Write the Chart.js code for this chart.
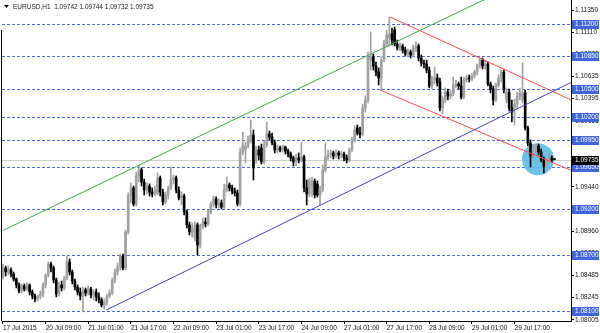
<!DOCTYPE html>
<html>
<head>
<meta charset="utf-8">
<title>EURUSD,H1</title>
<script src="https://cdn.jsdelivr.net/npm/chart.js@4.4.1/dist/chart.umd.min.js"></script>
<style>
  html, body { margin: 0; padding: 0; background: #fff; }
  canvas { display: block; }
</style>
</head>
<body>
<canvas id="chart" width="600" height="333"></canvas>
<script>
// EURUSD H1 candles, bar 0 = 17 Jul 2015 17:00, last bar = 30 Jul 08:00
const opens = [
  1.08478, 1.08565, 1.08521, 1.08543, 1.08500, 1.08446, 1.08381, 1.08316, 1.08370, 1.08338,
  1.08381, 1.08305, 1.08262, 1.08230, 1.08262, 1.08284, 1.08381, 1.08489, 1.08608, 1.08565,
  1.08435, 1.08284, 1.08381, 1.08349, 1.08457, 1.08629, 1.08521, 1.08424, 1.08359, 1.08305,
  1.08262, 1.08327, 1.08295, 1.08338, 1.08273, 1.08305, 1.08252, 1.08219, 1.08165, 1.08197,
  1.08262, 1.08295, 1.08435, 1.08521, 1.08575, 1.08694, 1.08565, 1.08953, 1.09342, 1.09429,
  1.09256, 1.09558, 1.09623, 1.09493, 1.09407, 1.09450, 1.09385, 1.09364, 1.09375, 1.09537,
  1.09385, 1.09277, 1.09353, 1.09429, 1.09515, 1.09537, 1.09407, 1.09321, 1.09342, 1.09169,
  1.09029, 1.08953, 1.08889, 1.09029, 1.08813, 1.09018, 1.09061, 1.09040, 1.09169, 1.09256,
  1.09310, 1.09245, 1.09267, 1.09223, 1.09407, 1.09461, 1.09429, 1.09396, 1.09375, 1.09256,
  1.09817, 1.09839, 1.09882, 1.09947, 1.10001, 1.09731, 1.09839, 1.09861, 1.09710, 1.09893,
  1.10012, 1.09979, 1.09915, 1.09839, 1.09861, 1.09839, 1.09871, 1.09828, 1.09796, 1.09753,
  1.09710, 1.09753, 1.09731, 1.09763, 1.09429, 1.09364, 1.09450, 1.09504, 1.09472, 1.09353,
  1.09407, 1.09623, 1.09763, 1.09785, 1.09807, 1.09774, 1.09807, 1.09785, 1.09796, 1.09753,
  1.09731, 1.09839, 1.09947, 1.10077, 1.10023, 1.10012, 1.10293, 1.10379, 1.10811, 1.10843,
  1.10746, 1.10681, 1.10617, 1.10811, 1.10984, 1.11049, 1.11092, 1.11135, 1.10984, 1.10941,
  1.10962, 1.10919, 1.10876, 1.10897, 1.10865, 1.10941, 1.10962, 1.10833, 1.10779, 1.10768,
  1.10703, 1.10530, 1.10595, 1.10617, 1.10573, 1.10293, 1.10379, 1.10465, 1.10422, 1.10444,
  1.10541, 1.10552, 1.10530, 1.10411, 1.10595, 1.10617, 1.10606, 1.10638, 1.10681, 1.10757,
  1.10811, 1.10746, 1.10768, 1.10552, 1.10498, 1.10379, 1.10541, 1.10617, 1.10681, 1.10379,
  1.10465, 1.10293, 1.10293, 1.10336, 1.10422, 1.10379, 1.10455, 1.10077, 1.09915, 1.09774,
  1.09861, 1.09882, 1.09817, 1.09731, 1.09666, 1.09731, 1.09753, 1.09742
];
const highs = [
  1.08608, 1.08586, 1.08586, 1.08565, 1.08521, 1.08457, 1.08403, 1.08392, 1.08392, 1.08403,
  1.08392, 1.08327, 1.08284, 1.08273, 1.08316, 1.08403, 1.08500, 1.08629, 1.08629, 1.08586,
  1.08457, 1.08413, 1.08424, 1.08478, 1.08694, 1.08662, 1.08543, 1.08446, 1.08381, 1.08349,
  1.08359, 1.08349, 1.08370, 1.08359, 1.08327, 1.08338, 1.08295, 1.08241, 1.08230, 1.08284,
  1.08327, 1.08457, 1.08554, 1.08619, 1.08716, 1.08716, 1.08975, 1.09375, 1.09483, 1.09450,
  1.09601, 1.09677, 1.09645, 1.09526, 1.09483, 1.09472, 1.09429, 1.09450, 1.09591, 1.09558,
  1.09418, 1.09385, 1.09450, 1.09655, 1.09569, 1.09558, 1.09440, 1.09385, 1.09364, 1.09191,
  1.09061, 1.09051, 1.09061, 1.09051, 1.09040, 1.09105, 1.09105, 1.09191, 1.09277, 1.09342,
  1.09332, 1.09310, 1.09299, 1.09472, 1.09547, 1.09483, 1.09461, 1.09429, 1.09407, 1.09861,
  1.10033, 1.09925, 1.09990, 1.10163, 1.10055, 1.09882, 1.09882, 1.09904, 1.09936, 1.10141,
  1.10044, 1.10022, 1.09947, 1.09893, 1.09882, 1.09893, 1.09882, 1.09850, 1.09817, 1.09774,
  1.09796, 1.09807, 1.09925, 1.09785, 1.09515, 1.09537, 1.09547, 1.09526, 1.09504, 1.09450,
  1.09677, 1.09915, 1.09839, 1.09839, 1.09828, 1.09839, 1.09828, 1.09828, 1.09817, 1.09785,
  1.09861, 1.09979, 1.10098, 1.10109, 1.10087, 1.10336, 1.10422, 1.10897, 1.11113, 1.10876,
  1.10789, 1.10725, 1.10843, 1.11027, 1.11135, 1.11275, 1.11157, 1.11167, 1.11027, 1.10995,
  1.10984, 1.10951, 1.10930, 1.10919, 1.10973, 1.11005, 1.10984, 1.10865, 1.10811, 1.10811,
  1.10735, 1.10638, 1.10735, 1.10660, 1.10617, 1.10422, 1.10509, 1.10498, 1.10487, 1.10627,
  1.10595, 1.10573, 1.10627, 1.10627, 1.10649, 1.10649, 1.10671, 1.10703, 1.10768, 1.10833,
  1.10833, 1.10800, 1.10789, 1.10573, 1.10530, 1.10563, 1.10649, 1.10703, 1.10703, 1.10509,
  1.10498, 1.10379, 1.10390, 1.10465, 1.10509, 1.10779, 1.10487, 1.10098, 1.09947, 1.09893,
  1.09904, 1.09904, 1.09850, 1.09763, 1.09753, 1.09807, 1.09774, 1.09744
];
const lows = [
  1.08446, 1.08478, 1.08489, 1.08467, 1.08424, 1.08349, 1.08295, 1.08295, 1.08316, 1.08316,
  1.08273, 1.08230, 1.08197, 1.08208, 1.08230, 1.08252, 1.08349, 1.08467, 1.08521, 1.08403,
  1.08252, 1.08262, 1.08316, 1.08327, 1.08435, 1.08489, 1.08392, 1.08327, 1.08273, 1.08219,
  1.08089, 1.08262, 1.08273, 1.08241, 1.08219, 1.08208, 1.08187, 1.08143, 1.08122, 1.08165,
  1.08241, 1.08273, 1.08403, 1.08489, 1.08543, 1.08543, 1.08543, 1.08932, 1.09267, 1.09234,
  1.09234, 1.09493, 1.09450, 1.09353, 1.09364, 1.09342, 1.09332, 1.09342, 1.09353, 1.09342,
  1.09245, 1.09256, 1.09310, 1.09407, 1.09472, 1.09375, 1.09299, 1.09245, 1.09137, 1.08997,
  1.08921, 1.08899, 1.08856, 1.08705, 1.08781, 1.08986, 1.09008, 1.09018, 1.09148, 1.09223,
  1.09213, 1.09213, 1.09202, 1.09202, 1.09385, 1.09396, 1.09364, 1.09342, 1.09234, 1.09234,
  1.09785, 1.09699, 1.09861, 1.09915, 1.09515, 1.09699, 1.09731, 1.09688, 1.09688, 1.09871,
  1.09947, 1.09893, 1.09807, 1.09807, 1.09817, 1.09817, 1.09796, 1.09763, 1.09720, 1.09666,
  1.09666, 1.09699, 1.09710, 1.09385, 1.09245, 1.09332, 1.09332, 1.09321, 1.09332, 1.09245,
  1.09385, 1.09601, 1.09731, 1.09753, 1.09742, 1.09753, 1.09742, 1.09753, 1.09720, 1.09699,
  1.09710, 1.09817, 1.09925, 1.10001, 1.09969, 1.09990, 1.10249, 1.10347, 1.10703, 1.10703,
  1.10638, 1.10541, 1.10487, 1.10789, 1.10951, 1.10962, 1.10973, 1.10962, 1.10919, 1.10908,
  1.10887, 1.10854, 1.10843, 1.10833, 1.10843, 1.10897, 1.10800, 1.10746, 1.10725, 1.10671,
  1.10509, 1.10498, 1.10552, 1.10530, 1.10260, 1.10228, 1.10347, 1.10379, 1.10390, 1.10422,
  1.10509, 1.10498, 1.10390, 1.10390, 1.10573, 1.10573, 1.10584, 1.10617, 1.10649, 1.10725,
  1.10714, 1.10714, 1.10530, 1.10455, 1.10325, 1.10357, 1.10519, 1.10573, 1.10455, 1.10347,
  1.10260, 1.10141, 1.10109, 1.10293, 1.10379, 1.10347, 1.10055, 1.09882, 1.09655, 1.09753,
  1.09817, 1.09785, 1.09710, 1.09590, 1.09645, 1.09710, 1.09710, 1.09732
];
const closes = [
  1.08565, 1.08521, 1.08543, 1.08500, 1.08446, 1.08381, 1.08316, 1.08370, 1.08338, 1.08381,
  1.08305, 1.08262, 1.08230, 1.08262, 1.08284, 1.08381, 1.08489, 1.08608, 1.08565, 1.08435,
  1.08284, 1.08381, 1.08349, 1.08457, 1.08629, 1.08521, 1.08424, 1.08359, 1.08305, 1.08262,
  1.08327, 1.08295, 1.08338, 1.08273, 1.08305, 1.08252, 1.08219, 1.08165, 1.08197, 1.08262,
  1.08295, 1.08435, 1.08521, 1.08575, 1.08694, 1.08565, 1.08953, 1.09342, 1.09429, 1.09256,
  1.09558, 1.09623, 1.09493, 1.09407, 1.09450, 1.09385, 1.09364, 1.09407, 1.09537, 1.09385,
  1.09277, 1.09353, 1.09429, 1.09515, 1.09537, 1.09407, 1.09321, 1.09342, 1.09169, 1.09029,
  1.08953, 1.08997, 1.09029, 1.08813, 1.09018, 1.09061, 1.09040, 1.09169, 1.09256, 1.09310,
  1.09245, 1.09267, 1.09223, 1.09407, 1.09461, 1.09429, 1.09396, 1.09375, 1.09256, 1.09817,
  1.09893, 1.09882, 1.09947, 1.10001, 1.09645, 1.09839, 1.09785, 1.09710, 1.09893, 1.10012,
  1.09979, 1.09915, 1.09839, 1.09861, 1.09839, 1.09871, 1.09828, 1.09796, 1.09753, 1.09710,
  1.09753, 1.09731, 1.09763, 1.09429, 1.09364, 1.09515, 1.09504, 1.09353, 1.09353, 1.09407,
  1.09623, 1.09763, 1.09785, 1.09807, 1.09774, 1.09807, 1.09785, 1.09796, 1.09753, 1.09731,
  1.09839, 1.09947, 1.10055, 1.10023, 1.10012, 1.10293, 1.10379, 1.10843, 1.10843, 1.10746,
  1.10681, 1.10617, 1.10811, 1.10984, 1.11081, 1.11092, 1.11027, 1.10984, 1.10941, 1.10962,
  1.10919, 1.10876, 1.10897, 1.10865, 1.10941, 1.10962, 1.10833, 1.10779, 1.10768, 1.10703,
  1.10530, 1.10595, 1.10617, 1.10563, 1.10293, 1.10379, 1.10465, 1.10422, 1.10444, 1.10541,
  1.10552, 1.10530, 1.10411, 1.10595, 1.10617, 1.10606, 1.10638, 1.10681, 1.10757, 1.10811,
  1.10746, 1.10768, 1.10552, 1.10498, 1.10379, 1.10541, 1.10617, 1.10681, 1.10487, 1.10465,
  1.10293, 1.10249, 1.10336, 1.10422, 1.10455, 1.10455, 1.10077, 1.09915, 1.09774, 1.09861,
  1.09882, 1.09817, 1.09731, 1.09666, 1.09731, 1.09753, 1.09731, 1.09735
];

// time axis labels, one every 16 bars
const timeTickBars = [0, 16, 32, 48, 64, 80, 96, 112, 128, 144, 160, 176, 192];
const timeTickLabels = [
  '17 Jul 2015', '20 Jul 09:00', '21 Jul 01:00', '21 Jul 17:00', '22 Jul 09:00',
  '23 Jul 01:00', '23 Jul 17:00', '24 Jul 09:00', '27 Jul 01:00', '27 Jul 17:00',
  '28 Jul 09:00', '29 Jul 01:00', '29 Jul 17:00'
];

// price scale
const priceTicks = [
  1.11350, 1.11110, 1.10870, 1.10635, 1.10395, 1.10155, 1.09915, 1.09675,
  1.09440, 1.09200, 1.08960, 1.08720, 1.08485, 1.08245, 1.08005
];
const horizontalLevels = [1.11200, 1.10850, 1.10500, 1.10200, 1.09950, 1.09650, 1.09200, 1.08700, 1.08100];

// trend lines (bar index, price)
const greenLine = [{ x: 0, y: 1.0897 }, { x: 200, y: 1.1173 }];
const blueLine = [{ x: 38.7, y: 1.0811 }, { x: 214, y: 1.1058 }];
const redUpper = [{ x: 145.3, y: 1.11275 }, { x: 214, y: 1.1037 }];
const redLower = [{ x: 141.5, y: 1.10487 }, { x: 214, y: 1.0961 }];
const markerCircle = [{ x: 200.8, y: 1.0974, r: 16 }];

const symbolName = 'EURUSD';
const timeframe = 'H1';

document.addEventListener('DOMContentLoaded', () => {
    const FONT = '"Liberation Sans", Arial, sans-serif';
    const UP_COLOR = '#a0a0a0';
    const DOWN_COLOR = '#000000';
    const LEVEL_COLOR = '#4a6ae0';
    const lastIdx = closes.length - 1;
    const lastPrice = closes[lastIdx];

    const candleColor = ctx => closes[ctx.dataIndex] >= opens[ctx.dataIndex] ? UP_COLOR : DOWN_COLOR;

    const wickData = lows.map((l, i) => ({ x: i, y: [l, highs[i]] }));
    const bodyData = opens.map((o, i) => ({ x: i, y: [Math.min(o, closes[i]), Math.max(o, closes[i])] }));

    function trendDataset(data, color) {
        return {
            type: 'line',
            data: data,
            borderColor: color,
            borderWidth: 1,
            pointRadius: 0,
            fill: false,
            tension: 0,
            order: 0
        };
    }

    // --- Overlay: levels, price labels, title ---
    const overlayPlugin = {
        id: 'mtOverlay',
        beforeDatasetsDraw(chart) {
            const { ctx, chartArea, scales: { y } } = chart;
            ctx.save();
            ctx.lineWidth = 1;
            // current price line
            const py = Math.round(y.getPixelForValue(lastPrice)) + 0.5;
            ctx.strokeStyle = '#cfcfcf';
            ctx.beginPath();
            ctx.moveTo(chartArea.left, py);
            ctx.lineTo(chartArea.right, py);
            ctx.stroke();
            // dashed horizontal levels
            ctx.strokeStyle = LEVEL_COLOR;
            ctx.setLineDash([3, 2]);
            horizontalLevels.forEach(level => {
                const ly = Math.round(y.getPixelForValue(level)) + 0.5;
                ctx.beginPath();
                ctx.moveTo(chartArea.left, ly);
                ctx.lineTo(chartArea.right, ly);
                ctx.stroke();
            });
            ctx.restore();
        },
        afterDraw(chart) {
            const { ctx, chartArea, scales: { y } } = chart;
            ctx.save();
            // left frame line
            ctx.strokeStyle = '#000';
            ctx.lineWidth = 1;
            ctx.beginPath();
            ctx.moveTo(chartArea.left - 0.5, 30);
            ctx.lineTo(chartArea.left - 0.5, chartArea.bottom);
            ctx.stroke();

            // price boxes on the axis
            ctx.font = `6.5px ${FONT}`;
            ctx.textBaseline = 'middle';
            ctx.textAlign = 'left';
            const drawBox = (value, bg) => {
                const by = Math.round(y.getPixelForValue(value));
                ctx.fillStyle = bg;
                ctx.fillRect(chartArea.right + 1, by - 4, chart.width - chartArea.right - 2, 9);
                ctx.fillStyle = '#fff';
                ctx.fillText(value.toFixed(5), chartArea.right + 4, by + 0.5);
            };
            horizontalLevels.forEach(level => drawBox(level, '#3f66d8'));
            drawBox(lastPrice, '#000');

            // title
            ctx.fillStyle = '#000';
            ctx.beginPath();
            ctx.moveTo(4, 5);
            ctx.lineTo(9, 5);
            ctx.lineTo(6.5, 8);
            ctx.closePath();
            ctx.fill();
            ctx.fillStyle = '#1a1a1a';
            const title = `${symbolName},${timeframe}  ${opens[lastIdx].toFixed(5)} ${highs[lastIdx].toFixed(5)} ${lows[lastIdx].toFixed(5)} ${closes[lastIdx].toFixed(5)}`;
            ctx.fillText(title, 13, 7);
            ctx.restore();
        }
    };

    new Chart(document.getElementById('chart').getContext('2d'), {
        type: 'bar',
        data: {
            datasets: [
                trendDataset(greenLine, '#3cae3c'),
                trendDataset(blueLine, '#4646b4'),
                trendDataset(redUpper, '#ff4a4a'),
                trendDataset(redLower, '#ff4a4a'),
                {
                    label: 'body',
                    data: bodyData,
                    backgroundColor: candleColor,
                    borderWidth: 0,
                    grouped: false,
                    barPercentage: 1,
                    categoryPercentage: 1,
                    maxBarThickness: 2,
                    minBarLength: 1,
                    order: 1
                },
                {
                    label: 'wick',
                    data: wickData,
                    backgroundColor: candleColor,
                    borderWidth: 0,
                    grouped: false,
                    barPercentage: 1,
                    categoryPercentage: 1,
                    maxBarThickness: 1,
                    order: 2
                },
                {
                    type: 'bubble',
                    data: markerCircle,
                    backgroundColor: 'rgba(92, 186, 230, 0.9)',
                    borderWidth: 0,
                    order: 3
                }
            ]
        },
        options: {
            responsive: false,
            animation: false,
            events: [],
            layout: { autoPadding: false, padding: { left: 2, top: 0, right: 0, bottom: 0 } },
            plugins: { legend: { display: false }, tooltip: { enabled: false } },
            scales: {
                x: {
                    type: 'linear',
                    offset: false,
                    min: -0.375,
                    max: 213.2,
                    afterBuildTicks: s => { s.ticks = timeTickBars.map(v => ({ value: v })); },
                    afterFit: s => { s.height = 12; s.paddingLeft = 0; s.paddingRight = 0; },
                    grid: { offset: false, drawOnChartArea: false, tickLength: 3, color: '#000' },
                    border: { color: '#000' },
                    ticks: {
                        align: 'start',
                        autoSkip: false,
                        maxRotation: 0,
                        padding: 0,
                        color: '#111',
                        font: { family: FONT, size: 6.5 },
                        callback: (v, i) => timeTickLabels[i]
                    }
                },
                y: {
                    type: 'linear',
                    position: 'right',
                    min: 1.07992,
                    max: 1.11459,
                    afterBuildTicks: s => { s.ticks = priceTicks.map(v => ({ value: v })); },
                    afterFit: s => { s.width = 29; s.paddingTop = 0; s.paddingBottom = 0; },
                    grid: { drawOnChartArea: false, tickLength: 3, color: '#000' },
                    border: { color: '#000' },
                    ticks: {
                        autoSkip: false,
                        padding: 1,
                        color: '#111',
                        font: { family: FONT, size: 6.5 },
                        callback: v => v.toFixed(5)
                    }
                }
            }
        },
        plugins: [overlayPlugin]
    });
});
</script>
</body>
</html>
